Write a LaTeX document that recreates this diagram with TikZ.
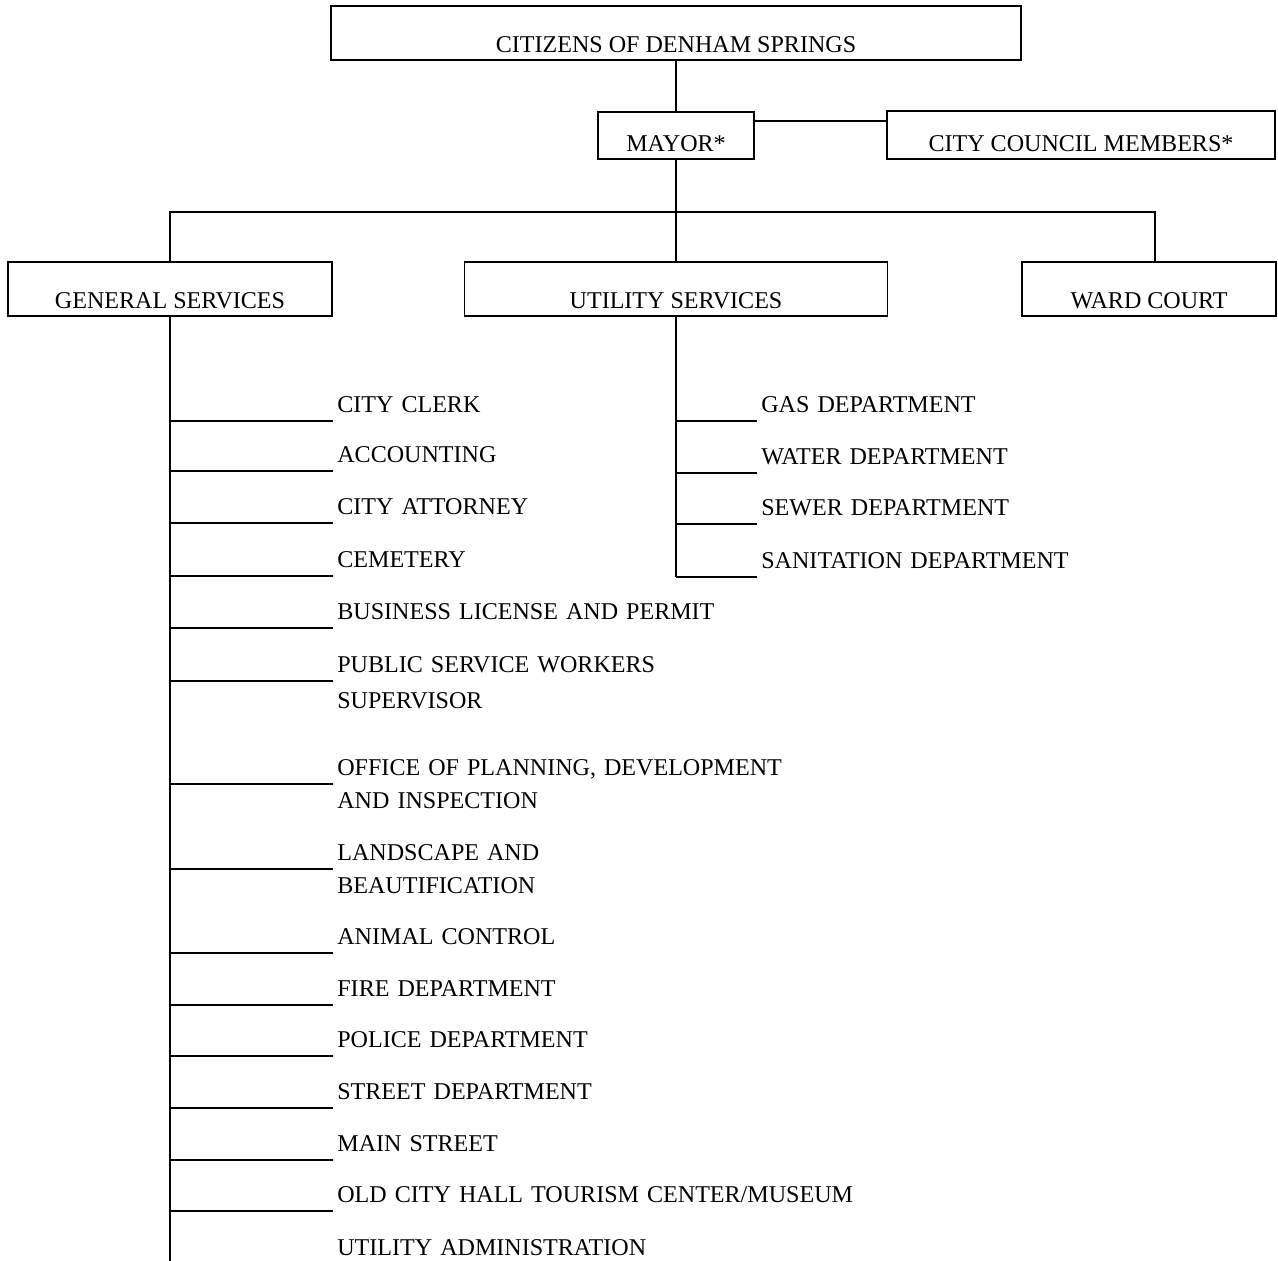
\documentclass[tikz,border=0pt]{standalone}
\usepackage{fontspec}
\setmainfont{Liberation Serif}
\usetikzlibrary{positioning,calc}

\begin{document}
\begin{tikzpicture}[
    x=0.02cm, y=-0.02cm,
    every node/.style={font=\fontsize{13.7}{18.5}\selectfont},
    unit/.style={rectangle, draw, line width=1pt, inner sep=0pt, text depth=0.16cm, anchor=south},
    item/.style={anchor=south west, inner xsep=0.08cm, inner ysep=0.16cm, text depth=0pt, text width=11cm, align=left},
    link/.style={line width=1pt}
]
    \useasboundingbox (0,0) rectangle (1278,1261);

    % top of the chart
    \node[unit, minimum width=13.8cm, text height=0.92cm] (citizens) at (676,61) {CITIZENS OF DENHAM SPRINGS};
    \node[unit, minimum width=3.12cm, text height=0.78cm] (mayor) at (676,160) {MAYOR*};
    \node[unit, minimum width=7.76cm, text height=0.80cm] (council) at (1081,160) {CITY COUNCIL MEMBERS*};
    \node[unit, minimum width=6.48cm, text height=0.92cm] (gs) at (170,317) {GENERAL SERVICES};
    \node[unit, minimum width=8.46cm, text height=0.92cm] (utility) at (676,317) {UTILITY SERVICES};
    \node[unit, minimum width=5.08cm, text height=0.92cm] (ward) at (1149,317) {WARD COURT};
    \coordinate (bus) at (676,212);

    \draw[link] (citizens) -- (mayor);
    \draw[link] ([yshift=-0.2cm]mayor.north east) -- ([yshift=-0.2cm]mayor.north east -| council.west);
    \draw[link] (mayor) -- (bus);
    \draw[link] (gs.north) |- (bus) -| ([xshift=0.12cm]ward.north);
    \draw[link] (bus) -- (utility);

    % general services
    \coordinate (gsend) at (170,1261);
    \draw[link] (gs) -- (gsend);
    \node[item] (clerk) at (333,421) {CITY CLERK};
    \draw[link] (gs.south |- clerk.south west) -- (clerk.south west);
    \node[item] (accounting) at (333,471) {ACCOUNTING};
    \draw[link] (gs.south |- accounting.south west) -- (accounting.south west);
    \node[item] (attorney) at (333,523) {CITY ATTORNEY};
    \draw[link] (gs.south |- attorney.south west) -- (attorney.south west);
    \node[item] (cemetery) at (333,576) {CEMETERY};
    \draw[link] (gs.south |- cemetery.south west) -- (cemetery.south west);
    \node[item] (license) at (333,628) {BUSINESS LICENSE AND PERMIT};
    \draw[link] (gs.south |- license.south west) -- (license.south west);
    \node[item] (workers) at (333,681) {PUBLIC SERVICE WORKERS\\[2pt]SUPERVISOR};
    \draw[link] (gs.south |- workers.south west) -- (workers.south west);
    \node[item] (planning) at (333,784) {OFFICE OF PLANNING, DEVELOPMENT\\AND INSPECTION};
    \draw[link] (gs.south |- planning.south west) -- (planning.south west);
    \node[item] (landscape) at (333,869) {LANDSCAPE AND\\BEAUTIFICATION};
    \draw[link] (gs.south |- landscape.south west) -- (landscape.south west);
    \node[item] (animal) at (333,953) {ANIMAL CONTROL};
    \draw[link] (gs.south |- animal.south west) -- (animal.south west);
    \node[item] (fire) at (333,1005) {FIRE DEPARTMENT};
    \draw[link] (gs.south |- fire.south west) -- (fire.south west);
    \node[item] (police) at (333,1056) {POLICE DEPARTMENT};
    \draw[link] (gs.south |- police.south west) -- (police.south west);
    \node[item] (street) at (333,1108) {STREET DEPARTMENT};
    \draw[link] (gs.south |- street.south west) -- (street.south west);
    \node[item] (mainst) at (333,1160) {MAIN STREET};
    \draw[link] (gs.south |- mainst.south west) -- (mainst.south west);
    \node[item] (oldhall) at (333,1211) {OLD CITY HALL TOURISM CENTER/MUSEUM};
    \draw[link] (gs.south |- oldhall.south west) -- (oldhall.south west);
    \node[item] (utiladmin) at (333,1264) {UTILITY ADMINISTRATION};
    \draw[link] (gs.south |- utiladmin.south west) -- (utiladmin.south west);

    % utility services
    \node[item] (gas) at (757,421) {GAS DEPARTMENT};
    \node[item] (water) at (757,473) {WATER DEPARTMENT};
    \node[item] (sewer) at (757,524) {SEWER DEPARTMENT};
    \node[item] (sanitation) at (757,577) {SANITATION DEPARTMENT};
    \draw[link] (utility) -- (utility.south |- sanitation.south west);
    \draw[link] (utility.south |- gas.south west) -- (gas.south west);
    \draw[link] (utility.south |- water.south west) -- (water.south west);
    \draw[link] (utility.south |- sewer.south west) -- (sewer.south west);
    \draw[link] (utility.south |- sanitation.south west) -- (sanitation.south west);
\end{tikzpicture}
\end{document}
